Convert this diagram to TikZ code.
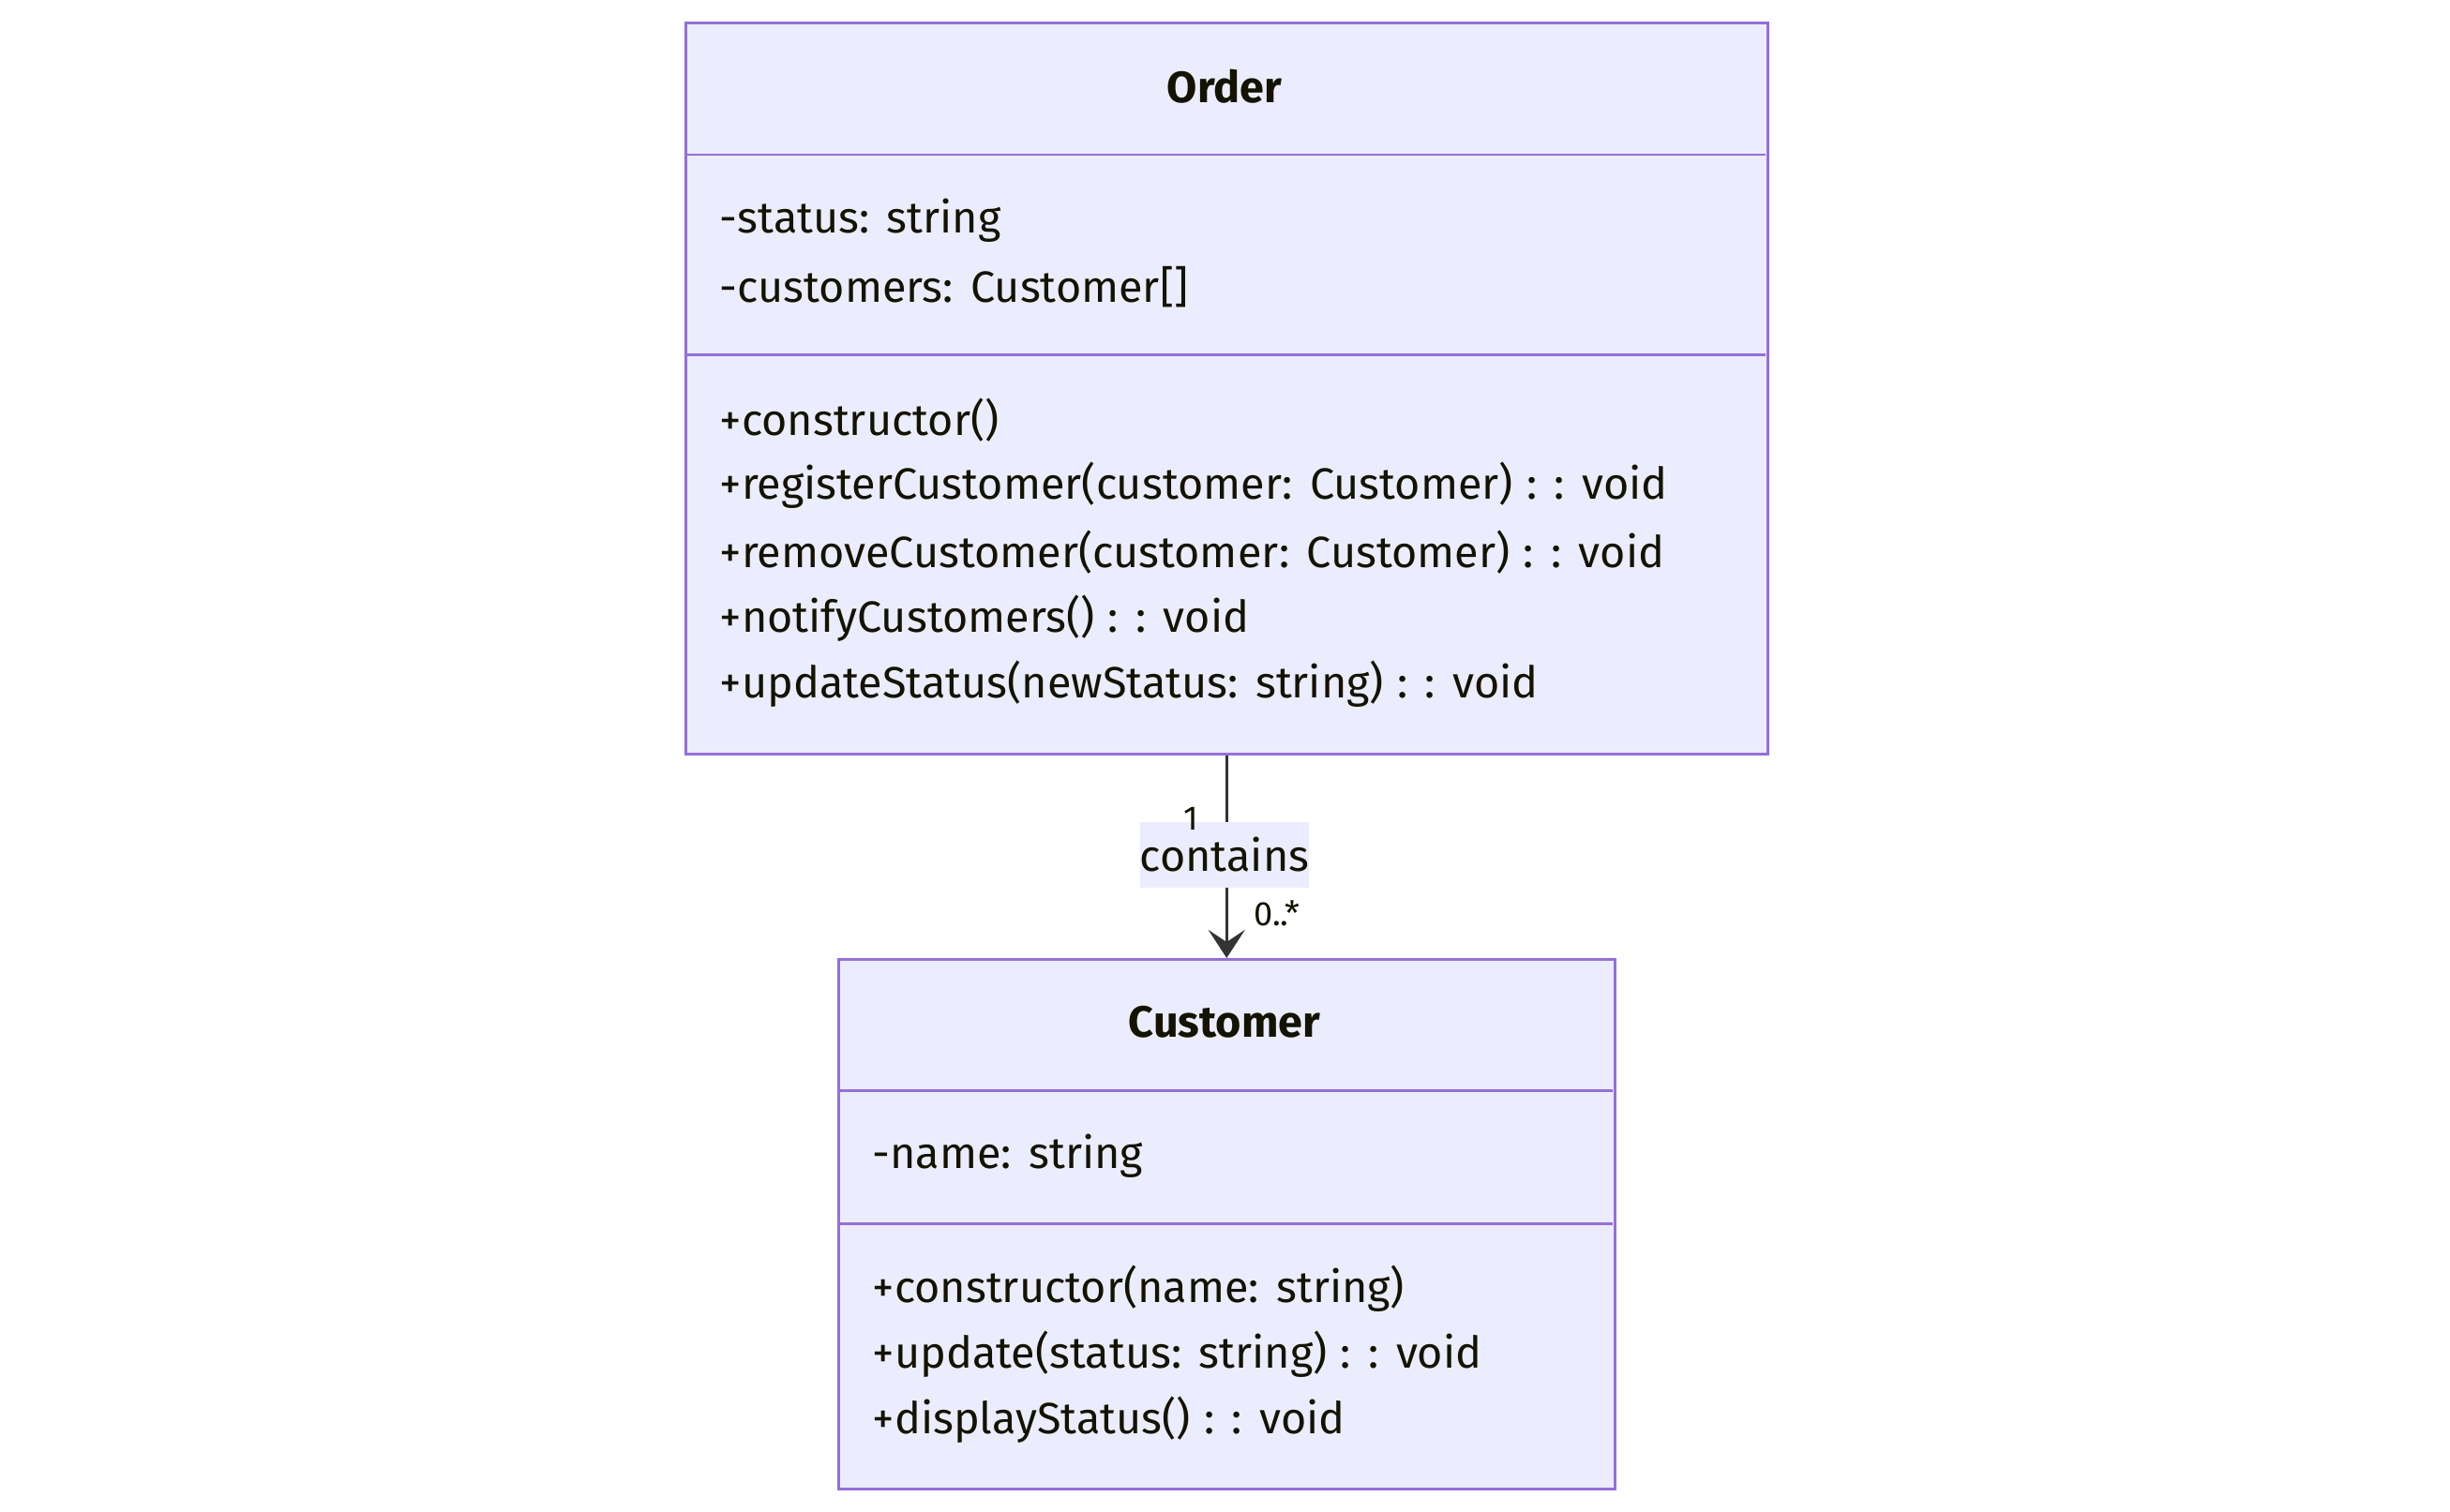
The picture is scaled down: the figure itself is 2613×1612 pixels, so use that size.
\documentclass[tikz,border=0pt]{standalone}
\usepackage{fontspec}
\setmainfont{Fira Sans}[WordSpace={1.15,0.5,0.3}]
\usetikzlibrary{arrows.meta}
\definecolor{boxfill}{HTML}{ECECFF}
\definecolor{boxline}{HTML}{9370DB}
\definecolor{txt}{HTML}{131300}
\definecolor{edgecol}{HTML}{333333}
\begin{document}
\begin{tikzpicture}[x=0.01cm,y=-0.01cm,
  classbox/.style={draw=boxline, fill=boxfill, line width=0.85pt, inner sep=0pt, anchor=north west},
  divider/.style={draw=boxline, line width=0.85pt},
  member/.style={anchor=west, inner sep=0pt, text=txt, font=\fontsize{13.3pt}{15pt}\selectfont},
  classtitle/.style={anchor=center, inner sep=0pt, text=txt, font=\fontsize{13.3pt}{15pt}\selectfont\bfseries},
  edgeline/.style={draw=edgecol, line width=0.9pt, -{Stealth[length=0.30cm,width=0.39cm,inset=0.13cm]}},
  edgelabel/.style={fill=boxfill, inner xsep=0pt, inner ysep=0pt, minimum width=1.76cm, minimum height=0.70cm, text=txt, font=\fontsize{13.3pt}{15pt}\selectfont},
  multlabel/.style={inner sep=0pt, text=txt, font=\fontsize{10.3pt}{12pt}\selectfont}
]
\useasboundingbox (0,0) rectangle (2613,1612);
% Order class
\node[classbox, minimum width=11.53cm, minimum height=7.8cm] (order) at (730,23) {};
\draw[divider] (730,165) -- (1883,165);
\draw[divider] (730,378) -- (1883,378);
\node[classtitle] (ordertitle) at (1306,92) {Order};
\node[member] (oa1) at (767,235) {-status: string};
\node[member] (oa2) at (767,306) {-customers: Customer[]};
\node[member] (om1) at (767,448) {+constructor()};
\node[member] (om2) at (767,518) {+registerCustomer(customer: Customer) : : void};
\node[member] (om3) at (767,589) {+removeCustomer(customer: Customer) : : void};
\node[member] (om4) at (767,660) {+notifyCustomers() : : void};
\node[member] (om5) at (767,730) {+updateStatus(newStatus: string) : : void};
% Customer class
\node[classbox, minimum width=8.27cm, minimum height=5.65cm] (customer) at (893,1022) {};
\draw[divider] (893,1163) -- (1720,1163);
\draw[divider] (893,1305) -- (1720,1305);
\node[classtitle] (custtitle) at (1306,1090) {Customer};
\node[member] (ca1) at (930,1233) {-name: string};
\node[member] (cm1) at (930,1375) {+constructor(name: string)};
\node[member] (cm2) at (930,1445) {+update(status: string) : : void};
\node[member] (cm3) at (930,1515) {+displayStatus() : : void};
% association
\draw[edgeline] (order.south -| customer.north) -- (customer.north);
\node[edgelabel] (contains) at (1306,912) {contains};
\node[multlabel] (m1) at (1270,873) {1};
\node[multlabel] (m2) at (1362,974) {0..*};
\end{tikzpicture}
\end{document}
